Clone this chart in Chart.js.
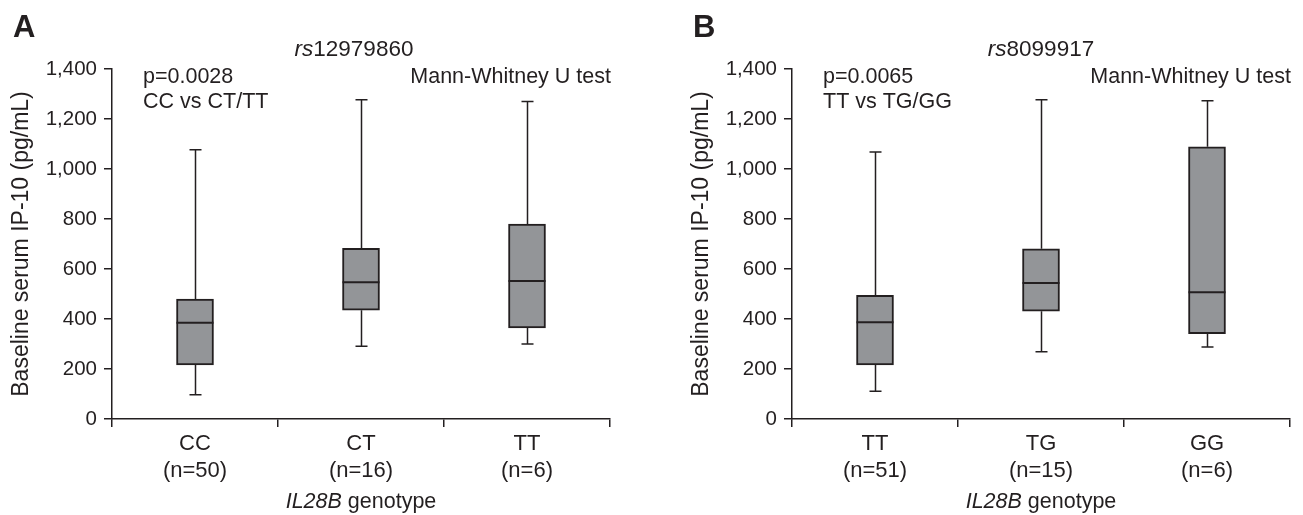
<!DOCTYPE html>
<html><head><meta charset="utf-8">
<script src="https://cdn.jsdelivr.net/npm/chart.js@4.4.1/dist/chart.umd.min.js"></script>
<style>
html,body{margin:0;padding:0;background:#fff;overflow:hidden}
#wrap{position:relative;width:1303px;height:515px;background:#fff}
canvas{position:absolute;top:0}
</style></head><body>
<div id="wrap">
<canvas id="cA" width="680" height="515" style="left:0"></canvas>
<canvas id="cB" width="623" height="515" style="left:680px"></canvas>
</div>
<script>
// ---- data ----
const categoriesA = [['CC','(n=50)'], ['CT','(n=16)'], ['TT','(n=6)']];
const minA = [97, 291, 300];
const q1A  = [216, 435, 364];
const medA = [385, 547, 552];
const q3A  = [480, 683, 780];
const maxA = [1077, 1277, 1270];

const categoriesB = [['TT','(n=51)'], ['TG','(n=15)'], ['GG','(n=6)']];
const minB = [111, 269, 288];
const q1B  = [216, 431, 341];
const medB = [387, 544, 507];
const q3B  = [495, 681, 1089];
const maxB = [1068, 1277, 1273];

const yMin = 0, yMax = 1400, yStep = 200;

const INK = '#231f20';
const BOX = '#939598';
const FAMILY = '"Liberation Sans", Arial, Helvetica, sans-serif';
Chart.defaults.font.family = FAMILY;
Chart.defaults.color = INK;

const boxExtras = {
  id: 'boxExtras',
  beforeDatasetsDraw(chart, args, o) {
    const {ctx, scales: {x, y}} = chart;
    ctx.save();
    ctx.strokeStyle = INK; ctx.lineWidth = 1.5;
    o.min.forEach((v, i) => {
      const cx = Math.round(x.getPixelForValue(i)) + 0.5;
      const pMin = y.getPixelForValue(o.min[i]);
      const pMax = y.getPixelForValue(o.max[i]);
      const pQ1 = y.getPixelForValue(o.q1[i]);
      const pQ3 = y.getPixelForValue(o.q3[i]);
      ctx.beginPath();
      ctx.moveTo(cx, pMax); ctx.lineTo(cx, pQ3);
      ctx.moveTo(cx, pQ1); ctx.lineTo(cx, pMin);
      ctx.moveTo(cx - 6, pMax); ctx.lineTo(cx + 6, pMax);
      ctx.moveTo(cx - 6, pMin); ctx.lineTo(cx + 6, pMin);
      ctx.stroke();
    });
    ctx.restore();
  },
  afterDatasetsDraw(chart, args, o) {
    const {ctx, scales: {y}} = chart;
    const meta = chart.getDatasetMeta(0);
    ctx.save();
    ctx.strokeStyle = INK; ctx.lineWidth = 2;
    meta.data.forEach((bar, i) => {
      const py = y.getPixelForValue(o.med[i]);
      ctx.beginPath();
      ctx.moveTo(bar.x - bar.width / 2, py);
      ctx.lineTo(bar.x + bar.width / 2, py);
      ctx.stroke();
    });
    ctx.restore();
  }
};

const texts = {
  id: 'texts',
  afterDraw(chart, args, o) {
    const {ctx, chartArea: ca} = chart;
    ctx.save();
    ctx.fillStyle = INK;
    ctx.textBaseline = 'middle';
    const drawParts = (parts, x, y, align, size) => {
      const fonts = parts.map(p => (p.bold ? 'bold ' : '') + (p.italic ? 'italic ' : '') + size + 'px ' + FAMILY);
      let w = 0;
      const ws = parts.map((p, k) => { ctx.font = fonts[k]; const m = ctx.measureText(p.t).width; w += m; return m; });
      let sx = align === 'center' ? x - w / 2 : align === 'right' ? x - w : x;
      ctx.textAlign = 'left';
      parts.forEach((p, k) => { ctx.font = fonts[k]; ctx.fillText(p.t, sx, y); sx += ws[k]; });
    };
    const cx = (ca.left + ca.right) / 2;
    // panel letter
    ctx.textBaseline = 'alphabetic';
    drawParts([{t: o.letter, bold: true}], 13, 37, 'left', 31);
    ctx.textBaseline = 'middle';
    drawParts([{t: 'rs', italic: true}, {t: o.snp}], cx + o.snpShift, 50, 'center', 22.5);
    drawParts([{t: o.p}], ca.left + 31, 77, 'left', 21.5);
    drawParts([{t: o.cmp}], ca.left + 31, 102, 'left', 21.5);
    drawParts([{t: 'Mann-Whitney U test'}], ca.right + 1, 77, 'right', 21.5);
    drawParts([{t: 'IL28B', italic: true}, {t: ' genotype'}], cx, 502, 'center', 21.5);
    ctx.restore();
  }
};

function makeChart(id, cats, mn, q1, md, q3, mx, rightPad, letter, snp, p, cmp, snpShift) {
  return new Chart(document.getElementById(id), {
    type: 'bar',
    data: {
      labels: cats,
      datasets: [{
        data: q1.map((v, i) => [v, q3[i]]),
        backgroundColor: BOX,
        borderColor: INK,
        borderWidth: 2,
        borderSkipped: false,
        barThickness: 37
      }]
    },
    options: {
      responsive: false,
      animation: false,
      devicePixelRatio: 1,
      layout: {padding: {left: 0, right: rightPad, top: 69, bottom: 0}},
      plugins: {
        legend: {display: false},
        tooltip: {enabled: false},
        boxExtras: {min: mn, q1: q1, med: md, q3: q3, max: mx},
        texts: {letter, snp, p, cmp, snpShift}
      },
      scales: {
        x: {
          type: 'category',
          offset: true,
          grid: {display: true, offset: true, drawOnChartArea: false, drawTicks: true, tickLength: 8, color: INK, lineWidth: 1.5},
          border: {display: true, color: INK, width: 1.5},
          ticks: {color: INK, font: {size: 22, lineHeight: 1.25}, padding: 3, maxRotation: 0, autoSkip: false},
          afterFit(s) { s.height = 96; }
        },
        y: {
          min: yMin, max: yMax,
          grid: {display: true, drawOnChartArea: false, drawTicks: true, tickLength: 8, color: INK, lineWidth: 1.5},
          border: {display: true, color: INK, width: 1.5},
          ticks: {stepSize: yStep, color: INK, font: {size: 20.5}, padding: 7,
                  callback: v => v.toLocaleString('en-US')},
          title: {display: true, text: 'Baseline serum IP-10 (pg/mL)', color: INK, font: {size: 23, lineHeight: 1.2}, padding: {top: 8, bottom: 0}},
          afterFit(s) { s.width = 112; }
        }
      }
    },
    plugins: [boxExtras, texts]
  });
}

makeChart('cA', categoriesA, minA, q1A, medA, q3A, maxA, 70, 'A', '12979860', 'p=0.0028', 'CC vs CT/TT', -7);
makeChart('cB', categoriesB, minB, q1B, medB, q3B, maxB, 13, 'B', '8099917', 'p=0.0065', 'TT vs TG/GG', 0);
</script>
</body></html>
